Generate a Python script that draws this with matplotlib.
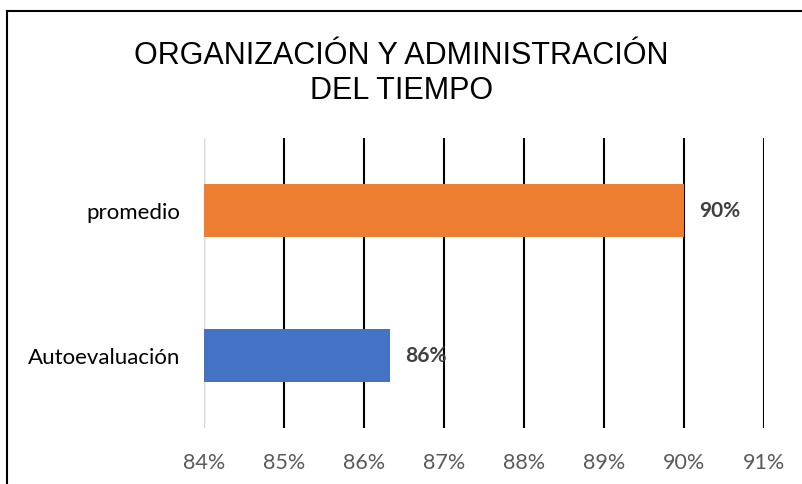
import matplotlib.pyplot as plt
from matplotlib.lines import Line2D

categories = ['Autoevaluación', 'promedio']
values = [86.33, 90.0]
labels = ['86%', '90%']
colors = ['#4472C4', '#ED7D31']
ticks = [84, 85, 86, 87, 88, 89, 90, 91]
tick_labels = ['84%', '85%', '86%', '87%', '88%', '89%', '90%', '91%']

fig = plt.figure(figsize=(8.03, 4.85), dpi=100)
ax = fig.add_axes([204 / 803, 1 - 429 / 485, 560 / 803, 290 / 485])

ax.barh(range(len(categories)), [v - 84 for v in values], left=84,
        height=0.36, color=colors, zorder=3)

for i, (v, lab) in enumerate(zip(values, labels)):
    ax.annotate(lab, (v, i), xytext=(15, 0), textcoords='offset pixels',
                ha='left', va='center', fontsize=15, fontweight='bold',
                color='#404040', family='Lato', zorder=4)

ax.set_xlim(84, 91)
ax.set_ylim(-0.5, 1.5)
ax.set_xticks(ticks)
ax.set_xticklabels(tick_labels, family='Lato', fontsize=15.5, color='#595959')
ax.set_yticks(range(len(categories)))
ax.set_yticklabels(categories, family='Lato', fontsize=16, color='#000000')
ax.tick_params(axis='both', length=0)
ax.tick_params(axis='x', pad=17)
ax.tick_params(axis='y', pad=17)

ax.grid(axis='x', color='black', linewidth=1.5, zorder=1)
ax.axvline(84, color='#D9D9D9', linewidth=1.5, zorder=2)
for s in ax.spines.values():
    s.set_visible(False)

fig.text(0.5, 1 - 99 / 485, 'ORGANIZACIÓN Y ADMINISTRACIÓN\nDEL TIEMPO',
         ha='center', va='baseline', fontsize=22, family='Liberation Sans',
         color='black', linespacing=1.2)

# chart border (left and top edges visible)
fig.add_artist(Line2D([7.5 / 803, 7.5 / 803], [0, 1 - 12 / 485],
                      transform=fig.transFigure, color='black', linewidth=1.5))
fig.add_artist(Line2D([7.5 / 803, 1], [1 - 12 / 485, 1 - 12 / 485],
                      transform=fig.transFigure, color='black', linewidth=1.5))

fig.savefig('out.png', dpi=100)
